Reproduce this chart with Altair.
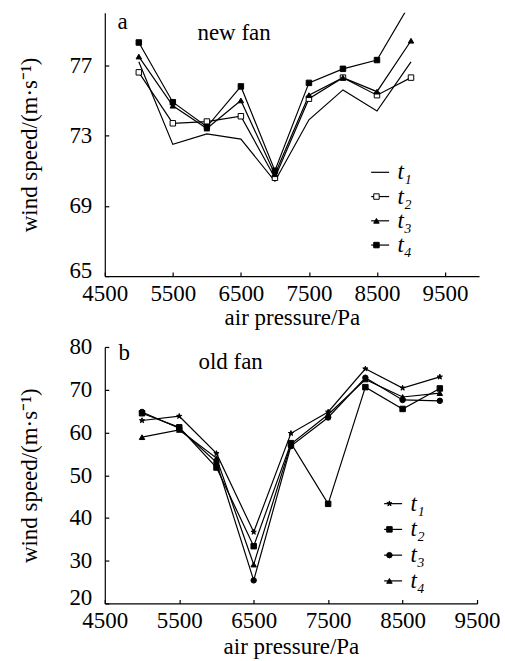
import altair as alt
import pandas as pd

FONT = "Liberation Serif, Times New Roman, serif"
FS = 23

# ---------------- data ----------------
pressure = [5000, 5500, 6000, 6500, 7000, 7500, 8000, 8500, 9000]
series_labels = ["t₁", "t₂", "t₃", "t₄"]

# panel a: new fan
new_t1 = [77.2, 72.5, 73.1, 72.8, 70.4, 73.9, 75.6, 74.4, 77.2]
new_t2 = [76.6, 73.7, 73.8, 74.1, 70.6, 75.1, 76.3, 75.3, 76.3]
new_t3 = [77.5, 74.7, 73.4, 75.0, 70.8, 75.3, 76.3, 75.5, 78.4]
new_t4 = [78.3, 74.9, 73.5, 75.8, 71.0, 76.0, 76.8, 77.3, 80.6]

# panel b: old fan
old_t1 = [62.8, 63.8, 55.1, 36.7, 59.8, 64.8, 74.9, 70.4, 73.0]
old_t2 = [64.5, 61.2, 51.8, 33.4, 57.5, 43.3, 70.6, 65.5, 70.3]
old_t3 = [64.8, 61.0, 53.0, 25.4, 56.8, 63.5, 72.8, 67.6, 67.4]
old_t4 = [58.9, 60.6, 54.0, 29.1, 57.3, 64.2, 72.4, 68.3, 69.2]

x_title = "air pressure/Pa"
y_title = "wind speed/(m·s⁻¹)"

new_x_domain = [4500, 10000]
new_y_domain = [65, 80]
new_x_ticks = [4500, 5000, 5500, 6000, 6500, 7000, 7500, 8000, 8500, 9000, 9500, 10000]
new_y_ticks = [65, 67, 69, 71, 73, 75, 77, 79]

old_x_domain = [4500, 9500]
old_y_domain = [20, 80]
old_x_ticks = [4500, 5000, 5500, 6000, 6500, 7000, 7500, 8000, 8500, 9000, 9500]
old_y_ticks = [20, 25, 30, 35, 40, 45, 50, 55, 60, 65, 70, 75, 80]

# annotations (panel letter and panel name)
new_ann_text = ["a", "new fan"]
new_ann_x = [4760, 6400]
new_ann_y = [79.05, 78.45]
old_ann_text = ["b", "old fan"]
old_ann_x = [4760, 6190]
old_ann_y = [76.9, 74.8]

STAR = ("M0,-1L0.2245,-0.309L0.951,-0.309L0.363,0.118L0.588,0.809L0,0.382"
        "L-0.588,0.809L-0.363,0.118L-0.951,-0.309L-0.2245,-0.309Z")
NONE = "M0,0"

new_shapes = [NONE, "square", "triangle-up", "square"]
new_fills = ["black", "white", "black", "black"]
old_shapes = [STAR, "square", "circle", "triangle-up"]
old_fills = ["black", "black", "black", "black"]
outline = ["black", "black", "black", "black"]


def make_df(series):
    rows = []
    for lab, vals in zip(series_labels, series):
        for p, v in zip(pressure, vals):
            rows.append({"p": p, "v": v, "s": lab, "m": lab})
    return pd.DataFrame(rows)


def panel(series, x_domain, y_domain, x_ticks, y_ticks, y_label_expr,
          shapes, fills, ann_text, ann_x, ann_y, w, h,
          leg_x, leg_y, row_pad, x_title_pad):
    df = make_df(series)
    x_axis = alt.Axis(values=x_ticks, format="d",
                      labelExpr="datum.value % 1000 == 500 ? datum.label : ''",
                      tickSize=alt.ExprRef("-4"), labelPadding=10, titlePadding=x_title_pad,
                      grid=False, labelOverlap=False, labelFlush=False)
    y_axis = alt.Axis(values=y_ticks, format="d", labelExpr=y_label_expr,
                      tickSize=alt.ExprRef("-4"), labelPadding=17, titlePadding=27,
                      labelOffset={"condition": {"test": f"datum.value == {y_domain[0]}",
                                                 "value": -6}, "value": 0},
                      grid=False, labelOverlap=False, labelFlush=False)
    xs = alt.Scale(domain=x_domain, nice=False, zero=False)
    ys = alt.Scale(domain=y_domain, nice=False, zero=False)

    line_leg = alt.Legend(title=None, orient="none", legendX=leg_x - 9.6, legendY=leg_y,
                          symbolType="stroke", symbolSize=324, symbolStrokeWidth=1.2,
                          symbolStrokeColor="black", labelExpr="''",
                          labelFont=FONT, labelFontSize=FS, rowPadding=row_pad)
    mark_leg = alt.Legend(title=None, orient="none", legendX=leg_x - 13.3, legendY=leg_y,
                          symbolSize=30, symbolStrokeColor="black", symbolStrokeWidth=1,
                          labelFont=FONT, labelFontSize=FS, labelFontStyle="italic",
                          labelColor="black", labelOffset=9.5, rowPadding=row_pad)

    lines = alt.Chart(df).mark_line(strokeWidth=1.2, clip=True).encode(
        x=alt.X("p:Q", scale=xs, axis=x_axis, title=x_title),
        y=alt.Y("v:Q", scale=ys, axis=y_axis, title=y_title),
        color=alt.Color("s:N", scale=alt.Scale(range=["black"] * 4), legend=line_leg),
    )
    points = alt.Chart(df).mark_point(filled=True, size=30,
                                      strokeWidth=1, opacity=1, clip=True).encode(
        x=alt.X("p:Q", scale=xs),
        y=alt.Y("v:Q", scale=ys),
        shape=alt.Shape("m:N", scale=alt.Scale(domain=series_labels, range=shapes),
                        legend=mark_leg),
        fill=alt.Fill("m:N", scale=alt.Scale(domain=series_labels, range=fills),
                      legend=mark_leg),
        stroke=alt.Stroke("m:N", scale=alt.Scale(domain=series_labels, range=outline),
                          legend=mark_leg),
    )
    ann_df = pd.DataFrame({"ax": ann_x, "ay": ann_y, "txt": ann_text})
    ann = alt.Chart(ann_df).mark_text(font=FONT, fontSize=FS, align="center",
                                      baseline="alphabetic", color="black").encode(
        x=alt.X("ax:Q", scale=xs), y=alt.Y("ay:Q", scale=ys), text="txt:N")
    return alt.layer(lines, points, ann).properties(width=w, height=h)


top = panel([new_t1, new_t2, new_t3, new_t4], new_x_domain, new_y_domain,
            new_x_ticks, new_y_ticks, "datum.label",
            new_shapes, new_fills, new_ann_text, new_ann_x, new_ann_y,
            375, 264, 274, 148.5, 0.3, 1)
bottom = panel([old_t1, old_t2, old_t3, old_t4], old_x_domain, old_y_domain,
               old_x_ticks, old_y_ticks,
               "datum.value % 10 == 0 ? datum.label : ''",
               old_shapes, old_fills, old_ann_text, old_ann_x, old_ann_y,
               373, 257, 287, 145.5, 1.8, 3)

chart = alt.vconcat(top, bottom, spacing=7).resolve_scale(
    x="independent", y="independent", color="independent",
    shape="independent", fill="independent", stroke="independent"
).properties(
    padding={"left": 19, "top": 10, "right": 5, "bottom": 0},
    background="white",
).configure_view(stroke=None).configure_axis(
    domainColor="black", tickColor="black", labelColor="black", titleColor="black",
    labelFont=FONT, titleFont=FONT, labelFontSize=FS, titleFontSize=FS,
    titleFontWeight="normal", domainWidth=1.2, tickWidth=1.2,
).configure_legend(labelColor="black")

chart.save("out.html", embed_options={"renderer": "svg", "actions": False})
